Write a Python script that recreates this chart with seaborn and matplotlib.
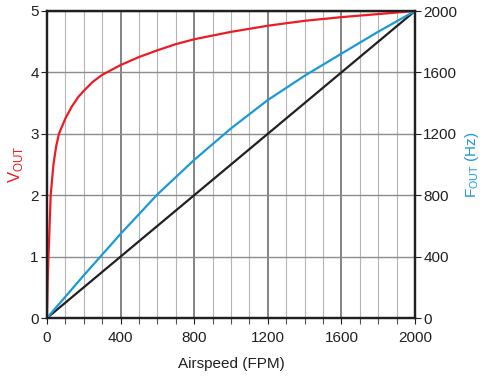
import matplotlib
matplotlib.use('Agg')
import matplotlib.pyplot as plt
import numpy as np
import pandas as pd
import seaborn as sns
from matplotlib.ticker import MultipleLocator

# Airspeed (FPM) vs output voltage (red) and frequency (blue), plus reference line
speed_v = [0, 4, 8, 14, 20, 35, 50, 65, 100, 134, 170, 200, 250, 300, 400, 500, 600, 700, 800, 1000, 1200, 1400, 1600, 1800, 2000]
vout = [0, 0.6, 1.0, 1.5, 2.0, 2.5, 2.8, 3.0, 3.25, 3.44, 3.6, 3.7, 3.85, 3.96, 4.12, 4.25, 4.36, 4.46, 4.54, 4.66, 4.76, 4.84, 4.90, 4.95, 5.0]

speed_f = [0, 200, 400, 600, 800, 1000, 1200, 1400, 1600, 1800, 2000]
fout = [0, 278, 548, 805, 1030, 1235, 1420, 1578, 1722, 1865, 2000]

speed_ref = [0, 2000]
ref_hz = [0, 2000]

red = '#ed1c24'
blue = '#1b9ad8'
black = '#231f20'

sns.set_style('white')
plt.rcParams['font.family'] = ['Liberation Sans', 'DejaVu Sans']

fig = plt.figure(figsize=(4.84, 3.78), dpi=100)
ax = fig.add_axes([47/484, 1-318/378, 368/484, 307/378])
ax2 = ax.twinx()

sns.lineplot(x=speed_v, y=vout, color=red, lw=1.6, ax=ax, zorder=5)
sns.lineplot(x=speed_ref, y=ref_hz, color=black, lw=1.6, ax=ax2)
sns.lineplot(x=speed_f, y=fout, color=blue, lw=1.6, ax=ax2)

ax.set_xlim(0, 2000)
ax.set_ylim(0, 5)
ax2.set_ylim(0, 2000)
ax.xaxis.set_major_locator(MultipleLocator(400))
ax.xaxis.set_minor_locator(MultipleLocator(100))
ax.yaxis.set_major_locator(MultipleLocator(1))
ax2.yaxis.set_major_locator(MultipleLocator(400))

ax.grid(which='minor', axis='x', color='#b5b5b5', lw=0.8)
ax.grid(which='major', axis='x', color='#7a7a7a', lw=1.3)
ax.grid(which='major', axis='y', color='#8c8c8c', lw=1.0)
ax.set_axisbelow(True)

for a in (ax, ax2):
    for s in a.spines.values():
        s.set_color(black)
        s.set_linewidth(1.6)
    a.tick_params(labelsize=11, colors='#231f20', length=4, width=0.8, direction='out')
ax.tick_params(which='minor', axis='x', length=4, width=0.8, bottom=True, color='#555555')
ax.tick_params(axis='x', bottom=True, pad=5)
ax.tick_params(axis='y', left=True, pad=2)
ax2.tick_params(axis='y', right=True, pad=2)

ax.set_xlabel('Airspeed (FPM)', fontsize=11, color='#231f20', labelpad=9)
ax.set_ylabel(r'V$_{\mathregular{OUT}}$', fontsize=12, color=red, labelpad=4)
ax2.set_ylabel(r'F$_{\mathregular{OUT}}$ (Hz)', fontsize=11, color=blue, labelpad=4)

fig.savefig('out.png', dpi=100)
